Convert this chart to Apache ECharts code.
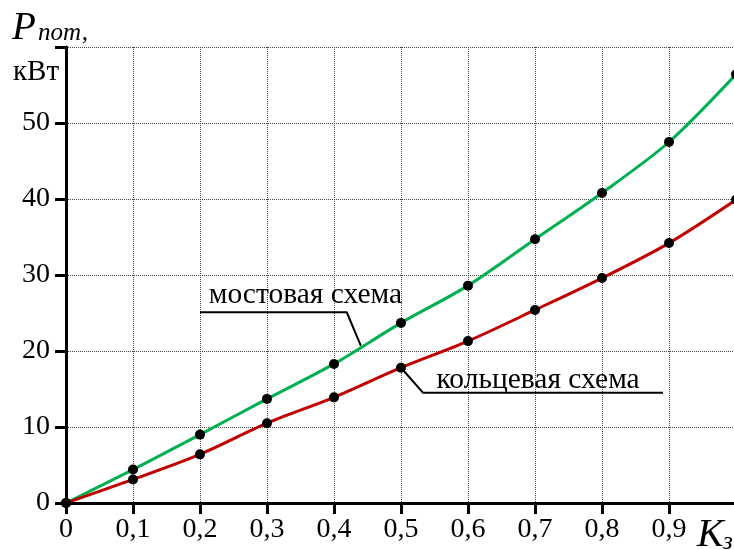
<!DOCTYPE html>
<html><head><meta charset="utf-8">
<script src="https://cdn.jsdelivr.net/npm/echarts@6/dist/echarts.min.js"></script>
<style>html,body{margin:0;padding:0;background:#fff}#c{width:734px;height:550px}</style>
</head><body><div id="c"></div>
<script>
// ---- data ----
const kz = [0, 0.1, 0.2, 0.3, 0.4, 0.5, 0.6, 0.7, 0.8, 0.9, 1.0];
const bridge = [0, 4.4, 9.0, 13.7, 18.3, 23.7, 28.6, 34.7, 40.8, 47.5, 56.4];   // мостовая схема
const ring   = [0, 3.1, 6.4, 10.5, 13.9, 17.8, 21.3, 25.4, 29.6, 34.2, 39.9];  // кольцевая схема
const yTickLabels = ['0', '10', '20', '30', '40', '50', ''];
const xTickLabels = ['0', '0,1', '0,2', '0,3', '0,4', '0,5', '0,6', '0,7', '0,8', '0,9', ''];
const bridgeName = 'мостовая схема';
const ringName = 'кольцевая схема';
// annotation leaders (data coordinates)
const bridgeLeader = [[0.2, 25.1], [0.419, 25.1], [0.44, 20.7]];
const ringLeader = [[0.5, 17.8], [0.533, 14.5], [0.891, 14.5]];
const bridgeLabelAt = [0.213, 27.4];
const ringLabelAt = [0.553, 16.2];

const FF = "'Liberation Serif','Times New Roman',serif";
const chart = echarts.init(document.getElementById('c'), null, {renderer: 'canvas'});
const pair = (xs, ys) => xs.map((x, i) => [x, ys[i]]);

const option = {
  backgroundColor: '#fff',
  animation: false,
  grid: {left: 66, top: 47, right: -2, bottom: 47, outerBoundsMode: 'none', containLabel: false},
  xAxis: {
    type: 'value', min: 0, max: 1, interval: 0.1,
    axisLine: {lineStyle: {color: '#000', width: 3}},
    axisTick: {length: 11, lineStyle: {color: '#000', width: 3}},
    splitLine: {show: true, lineStyle: {type: 'dotted', color: '#444', width: 1}},
    axisLabel: {
      margin: 13, fontSize: 28, color: '#000', fontFamily: FF,
      showMinLabel: true, showMaxLabel: true,
      formatter: v => xTickLabels[Math.round(v * 10)]
    }
  },
  yAxis: {
    type: 'value', min: 0, max: 60, interval: 10,
    axisLine: {lineStyle: {color: '#000', width: 3}},
    axisTick: {length: 11, lineStyle: {color: '#000', width: 3}},
    splitLine: {show: true, lineStyle: {type: 'dotted', color: '#444', width: 1}},
    axisLabel: {
      margin: 16, fontSize: 28, color: '#000', fontFamily: FF,
      showMinLabel: true, showMaxLabel: true,
      formatter: v => yTickLabels[Math.round(v / 10)]
    }
  },
  series: [
    {
      type: 'line', name: bridgeName, data: pair(kz, bridge), smooth: 0.3,
      symbol: 'circle', symbolSize: 10, showAllSymbol: true, clip: false,
      lineStyle: {color: '#00b050', width: 3}, itemStyle: {color: '#000'}, z: 5
    },
    {
      type: 'line', name: ringName, data: pair(kz, ring), smooth: 0.3,
      symbol: 'circle', symbolSize: 10, showAllSymbol: true, clip: false,
      lineStyle: {color: '#c00000', width: 3}, itemStyle: {color: '#000'}, z: 5
    },
    {
      type: 'line', data: bridgeLeader, symbol: 'none', silent: true,
      lineStyle: {color: '#000', width: 2}, z: 4
    },
    {
      type: 'line', data: ringLeader, symbol: 'none', silent: true,
      lineStyle: {color: '#000', width: 2}, z: 4
    }
  ]
};
chart.setOption(option);

const pb = chart.convertToPixel({gridIndex: 0}, bridgeLabelAt);
const pr = chart.convertToPixel({gridIndex: 0}, ringLabelAt);
chart.setOption({
  graphic: [
    {type: 'text', left: 12, top: 9, style: {text: 'P', font: 'italic 39px ' + FF, fill: '#000'}},
    {type: 'text', left: 38, top: 21, style: {text: 'пот,', font: 'italic 25px ' + FF, fill: '#000'}},
    {type: 'text', left: 13, top: 58, style: {text: 'кВт', font: '29px ' + FF, fill: '#000'}},
    {type: 'text', left: 697, top: 515, style: {text: 'K', font: 'italic 40px ' + FF, fill: '#000'}},
    {type: 'text', left: 723, top: 530, style: {text: 'з', font: 'italic 25px ' + FF, fill: '#000'}},
    {type: 'text', x: pb[0], y: pb[1], style: {text: bridgeName, font: '29.5px ' + FF, fill: '#000', verticalAlign: 'middle', align: 'left'}, z: 10},
    {type: 'text', x: pr[0], y: pr[1], style: {text: ringName, font: '29.5px ' + FF, fill: '#000', verticalAlign: 'middle', align: 'left'}, z: 10}
  ]
});
</script></body></html>
